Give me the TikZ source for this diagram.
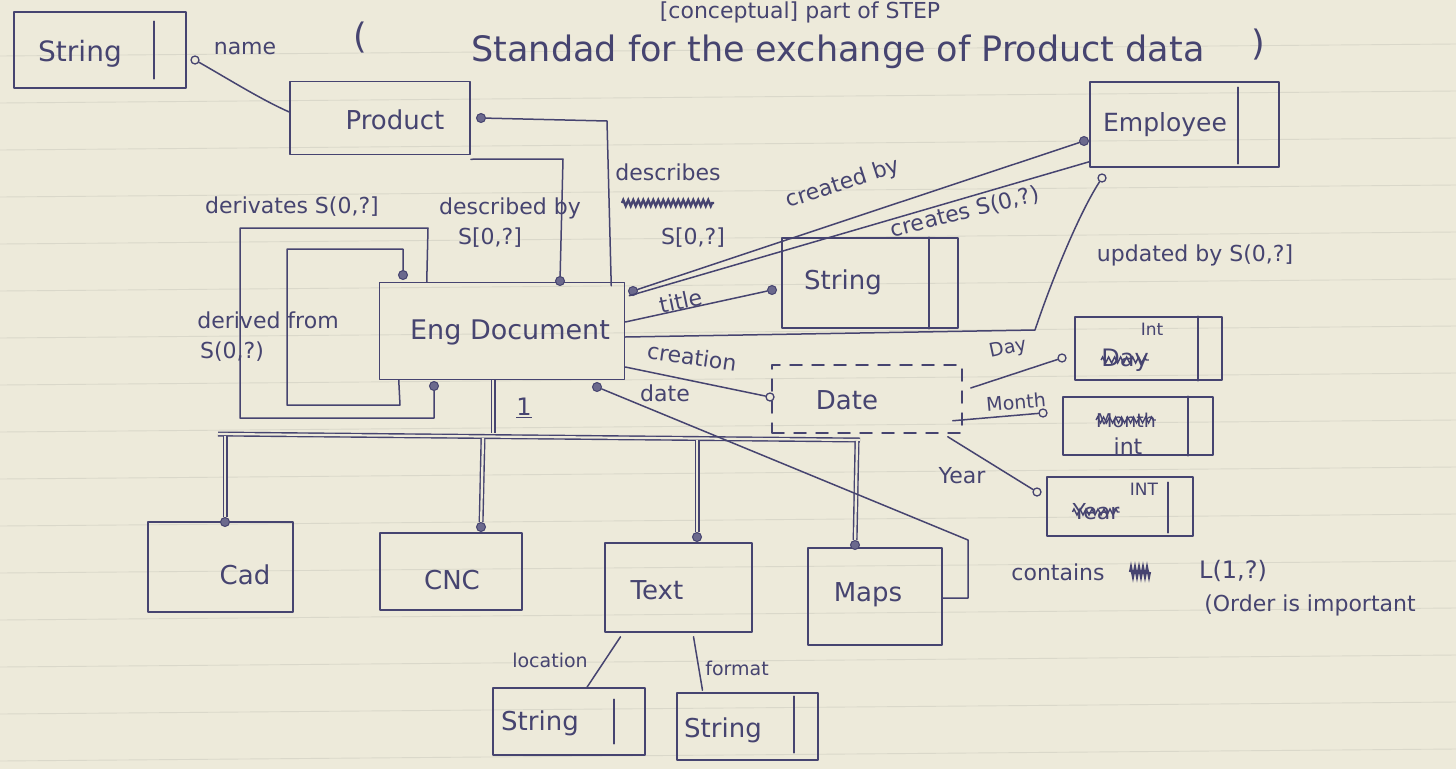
\documentclass[tikz,border=0pt]{standalone}
\usepackage{fontspec}
\setmainfont{DejaVu Sans}
\usetikzlibrary{calc,decorations.pathmorphing}
\definecolor{paper}{RGB}{237,234,218}
\definecolor{rulecol}{RGB}{218,216,202}
\definecolor{ink}{RGB}{70,68,112}
\begin{document}
\begin{tikzpicture}[x=1pt,y=-1pt,
  pen/.style={draw=ink, line width=1.5pt, line cap=round, line join=round},
  ent/.style={pen, rectangle, inner sep=0pt},
  dashent/.style={ent, dash pattern=on 12pt off 10pt},
  ball/.style={circle, draw=ink, fill=ink!80, line width=1pt, minimum size=9pt, inner sep=0pt},
  oball/.style={circle, draw=ink, fill=paper, line width=1.3pt, minimum size=8pt, inner sep=0pt},
  lbl/.style={text=ink, inner sep=0pt, font=\fontsize{22}{26}\selectfont},
  btx/.style={text=ink, inner sep=0pt, font=\fontsize{26}{30}\selectfont},
  htx/.style={text=ink, inner sep=0pt, font=\fontsize{35}{40}\selectfont},
  twin/.style={draw=ink, line width=1.4pt, double=paper, double distance=2.2pt},
  scrib/.style={draw=ink, line width=1.4pt, decorate, decoration={zigzag, segment length=6pt, amplitude=3pt}},
]
% ruled notebook paper
\fill[paper] (0,0) rectangle (1456,769);
\useasboundingbox (0,0) rectangle (1456,769);
\foreach \k in {0,...,16}
  \draw[rulecol, line width=0.9pt] (0,{50+47*\k+6}) -- (1456,{50+47*\k-6});

% heading
\node[htx, font=\fontsize{22}{26}\selectfont] (hdA) at (800,12) {[conceptual] part of STEP};
\node[htx] (hdL) at (360,38) {(};
\node[htx] (hdB) at (838,52) {Standad for the exchange of Product data};
\node[htx] (hdR) at (1258,45) {)};

% entity and type boxes
\node[ent, minimum width=172pt, minimum height=76pt] (strA) at (100,50) {};
\node[btx, font=\fontsize{28}{32}\selectfont] (strAt) at (80,54) {String};
\draw[pen] ($(strA.north east)+(-33,10)$) -- ($(strA.south east)+(-33,-10)$);

\node[ent, minimum width=180pt, minimum height=73pt] (product) at (380,118) {};
\node[btx] (productt) at (395,120) {Product};

\node[ent, minimum width=245pt, minimum height=97pt] (engdoc) at (502,331) {};
\node[btx, font=\fontsize{27}{31}\selectfont] (engdoct) at (510,332) {Eng Document};

\node[ent, minimum width=176pt, minimum height=90pt] (strB) at (870,283) {};
\node[btx] (strBt) at (843,282) {String};
\draw[pen] ($(strB.north east)+(-30,0)$) -- ($(strB.south east)+(-30,0)$);

\node[ent, minimum width=189pt, minimum height=85pt] (employee) at (1184.5,124.5) {};
\node[btx, font=\fontsize{25}{29}\selectfont] (employeet) at (1165,125) {Employee};
\draw[pen] ($(employee.north east)+(-42,6)$) -- ($(employee.south east)+(-42,-4)$);

\node[dashent, minimum width=190pt, minimum height=68pt] (date) at (867,399) {};
\node[btx] (datet) at (847,400) {Date};

\node[ent, minimum width=147pt, minimum height=63pt] (intDay) at (1148.5,348.5) {};
\draw[pen] ($(intDay.north east)+(-25,0)$) -- ($(intDay.south east)+(-25,0)$);
\node[lbl, font=\fontsize{17}{20}\selectfont] (intDayA) at (1152,329) {Int};
\node[btx, font=\fontsize{24}{28}\selectfont] (intDayB) at (1125,360) {Day};
\draw[scrib] (intDayB.west) -- (intDayB.east);

\node[ent, minimum width=150pt, minimum height=58pt] (intMonth) at (1138,426) {};
\draw[pen] ($(intMonth.north east)+(-26,0)$) -- ($(intMonth.south east)+(-26,0)$);
\node[lbl, font=\fontsize{19}{22}\selectfont] (intMonthB) at (1126,420) {Month};
\draw[scrib] (intMonthB.west) -- (intMonthB.east);
\node[lbl] (intMonthA) at (1128,446) {int};

\node[ent, minimum width=146pt, minimum height=59pt] (intYear) at (1120,506.5) {};
\draw[pen] ($(intYear.north east)+(-26,6)$) -- ($(intYear.south east)+(-26,-4)$);
\node[lbl, font=\fontsize{17}{20}\selectfont] (intYearA) at (1144,489) {INT};
\node[btx, font=\fontsize{22}{26}\selectfont] (intYearB) at (1096,512) {Year};
\draw[scrib] (intYearB.west) -- (intYearB.east);

\node[ent, minimum width=145pt, minimum height=90pt] (cad) at (220.5,567) {};
\node[btx] (cadt) at (245,575) {Cad};
\node[ent, minimum width=142pt, minimum height=77pt] (cnc) at (451,571.5) {};
\node[btx] (cnct) at (452,580) {CNC};
\node[ent, minimum width=147pt, minimum height=89pt] (text) at (678.5,587.5) {};
\node[btx] (textt) at (657,590) {Text};
\node[ent, minimum width=134pt, minimum height=97pt] (maps) at (875,596.5) {};
\node[btx] (mapst) at (868,595) {Maps};

\node[ent, minimum width=152pt, minimum height=67pt] (strC) at (569,721.5) {};
\node[btx] (strCt) at (540,723) {String};
\draw[pen] ($(strC.north east)+(-32,12)$) -- ($(strC.south east)+(-32,-12)$);
\node[ent, minimum width=141pt, minimum height=67pt] (strD) at (747.5,726.5) {};
\node[btx] (strDt) at (723,730) {String};
\draw[pen] ($(strD.north east)+(-25,4)$) -- ($(strD.south east)+(-25,-8)$);

% relationship end circles
\node[oball] (dName) at (195,60) {};
\node[ball] (dProd) at (481,118) {};
\node[ball] (dDescBy) at (560,281) {};
\node[ball] (dDerIn) at (403,275) {};
\node[ball] (dDerOut) at (434,386) {};
\node[ball] (dCreated) at (633,291) {};
\node[ball] (dTitle) at (772,290) {};
\node[ball] (dContains) at (597,387) {};
\node[oball] (dCreation) at (770,397) {};
\node[ball] (dEmpC) at (1084,141) {};
\node[oball] (dEmpU) at (1102,178) {};
\node[oball] (dDay) at (1062,358) {};
\node[oball] (dMonth) at (1043,413) {};
\node[oball] (dYear) at (1037,492) {};
\node[ball] (dCad) at (225,522) {};
\node[ball] (dCnc) at (481,527) {};
\node[ball] (dText) at (697,537) {};
\node[ball] (dMaps) at (855,545) {};

% attributes of Product
\draw[pen] (dName) .. controls (230,80) and (262,100) .. ($(product.west)+(0,-6)$);
\draw[pen] (dProd) -- (607,121) -- ($(engdoc.north east)+(-14,4)$);
\draw[pen] ($(product.south east)+(0,4)$) -- (563,159) -- (dDescBy);

% derivation loops on Eng Document
\draw[pen] ($(engdoc.north west)+(48,0)$) -- (428,228) -- (240,228) -- (240,418) -- (434,418) -- (dDerOut);
\draw[pen] (dDerIn) -- (403,249) -- (287,249) -- (287,405) -- (400,405) -- ($(engdoc.south west)+(20,0)$);

% subtype tree
\coordinate (busL) at (218,434);
\coordinate (busR) at (860,440);
\coordinate (tCad) at (225,436);
\coordinate (tCnc) at (483,438);
\coordinate (tText) at (697,440);
\coordinate (tMaps) at (857,441);
\draw[twin] ($(engdoc.south)+(-9,0)$) -- (493,433);
\draw[twin] (busL) -- (busR);
\draw[twin] (tCad) -- (dCad);
\draw[twin] (tCnc) -- (dCnc);
\draw[twin] (tText) -- (dText);
\draw[twin] (tMaps) -- (dMaps);
\node[lbl, font=\fontsize{24}{28}\selectfont] (one) at (524,408) {\underline{1}};

% contains
\draw[pen] (dContains) -- (968,540) -- (968,598) -- ($(maps.east)+(0,1.5)$);

% attributes towards String, Employee, Date
\draw[pen] ($(engdoc.east)+(0,-9)$) -- (dTitle);
\draw[pen] (dCreated) -- (dEmpC);
\draw[pen] ($(engdoc.north east)+(4,14)$) -- ($(employee.south west)+(0,-6)$);
\draw[pen] ($(engdoc.east)+(0,6)$) -- (1035,330) .. controls (1050,285) and (1078,215) .. (dEmpU);
\draw[pen] ($(engdoc.east)+(0,36)$) -- (dCreation);

% Date components
\draw[pen] ($(date.east)+(8,-11)$) -- (dDay);
\draw[pen] ($(date.south east)+(-10,-13)$) -- (dMonth);
\draw[pen] ($(date.south east)+(-15,3)$) -- (dYear);

% Text attributes
\draw[pen] ($(text.south)+(-58,4)$) -- ($(strC.north)+(18,0)$);
\draw[pen] ($(text.south)+(15,4)$) -- ($(strD.north)+(-45,-2)$);

% labels
\node[lbl] (lName) at (245,48) {name};
\node[lbl] (lDerivates) at (292,207) {derivates S(0,?]};
\node[lbl] (lDescBy) at (510,208) {described by};
\node[lbl] (lDescByC) at (490,238) {S[0,?]};
\node[lbl] (lDescribes) at (668,172) {describes};
\draw[scrib, line width=2.4pt, decoration={zigzag, segment length=5pt, amplitude=3pt}] (622,203) -- (714,203);
\node[lbl] (lDescribesC) at (693,238) {S[0,?]};
\node[lbl] (lDerived) at (268,320) {derived from};
\node[lbl] (lDerivedC) at (232,352) {S(0,?)};
\node[lbl, rotate=18] (lCreatedBy) at (843,184) {created by};
\node[lbl, rotate=14] (lCreates) at (965,212) {creates S(0,?)};
\node[lbl, rotate=12] (lTitle) at (681,301) {title};
\node[lbl] (lUpdated) at (1195,255) {updated by S(0,?]};
\node[lbl, rotate=-8] (lCreation) at (692,357) {creation};
\node[lbl] (lDate) at (665,393) {date};
\node[lbl, font=\fontsize{19}{22}\selectfont, rotate=12] (lDay) at (1008,349) {Day};
\node[lbl, font=\fontsize{19}{22}\selectfont, rotate=5] (lMonth) at (1016,402) {Month};
\node[lbl] (lYear) at (962,476) {Year};
\node[lbl] (lContains) at (1058,572) {contains};
\draw[scrib, line width=2.2pt, decoration={zigzag, segment length=4pt, amplitude=5pt}] (1130,572) -- (1150,572);
\node[lbl, font=\fontsize{24}{28}\selectfont] (lContainsC) at (1233,571) {L(1,?)};
\node[lbl] (lOrder) at (1310,605) {(Order is important};
\node[lbl, font=\fontsize{19}{22}\selectfont] (lLocation) at (550,660) {location};
\node[lbl, font=\fontsize{19}{22}\selectfont] (lFormat) at (737,668) {format};
\end{tikzpicture}
\end{document}
